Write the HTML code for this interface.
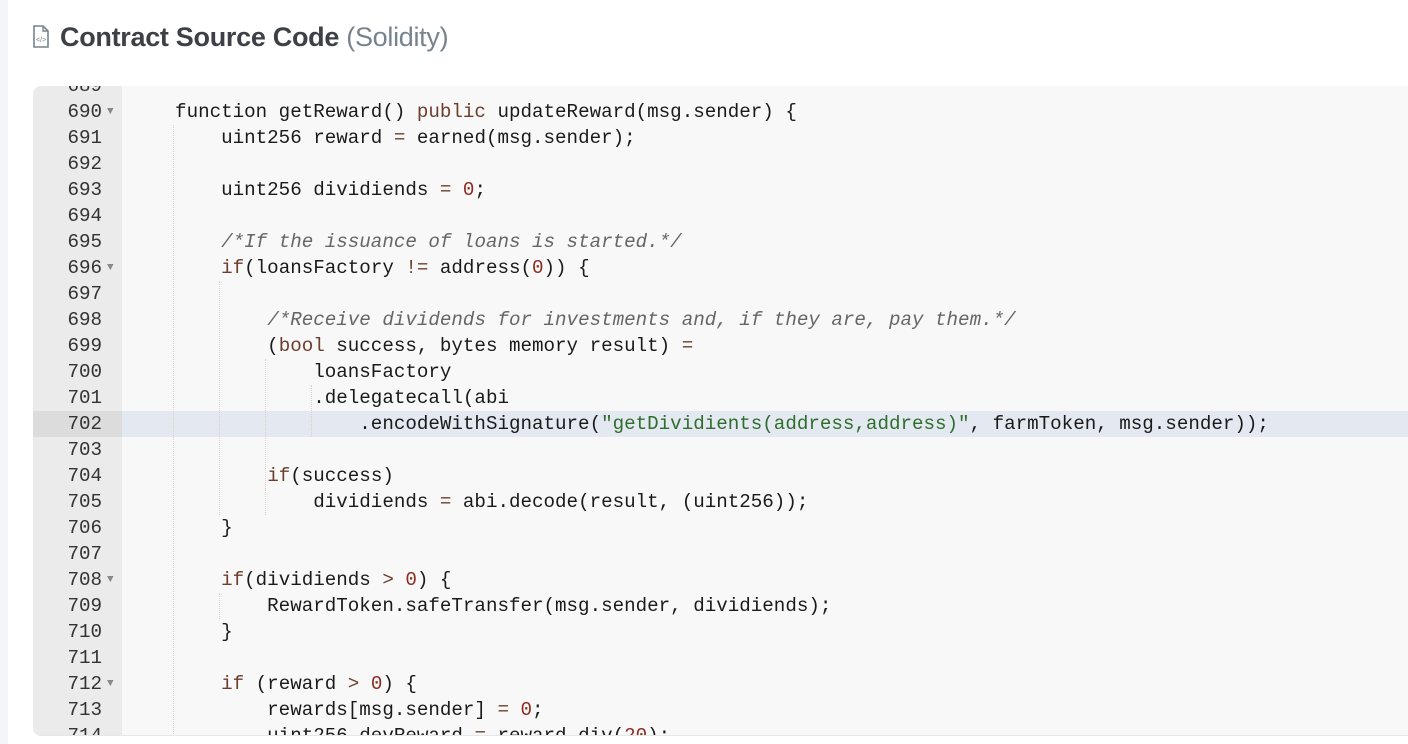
<!DOCTYPE html>
<html><head><meta charset="utf-8"><style>
body{margin:0;width:1408px;height:744px;background:#fff;position:relative;overflow:hidden;font-family:"Liberation Sans",sans-serif}
.lb{position:absolute;left:0;top:0;width:8px;height:744px;background:#f3f5f8}
.title{position:absolute;left:60px;top:22px;font-size:27px;font-weight:bold;color:#3c4148;letter-spacing:-0.3px}
.title span{font-weight:normal;color:#77838f}
.panel{position:absolute;left:33px;top:86px;width:1380px;height:649px;background:#f8f8f8;border-radius:8px 0 0 8px;overflow:hidden;border-bottom:1px solid #e3e6ea}
.gut{position:absolute;left:0;top:0;width:89px;height:100%;background:#ebebeb}
.code{position:absolute;left:0;top:1px;width:100%;font-family:"Liberation Mono",monospace;font-size:19.2px;color:#1a1a1a}
.l{position:absolute;left:0;height:26px;line-height:26px;width:100%;white-space:pre}
.n{position:absolute;left:0;width:69px;text-align:right;color:#333}
.f{position:absolute;left:74px;top:0;font-size:11px;color:#888}
.t{position:absolute;left:96px}
.hl{position:absolute;left:0;width:100%;height:26px;background:#e4e8f0}
.hlg{position:absolute;left:0;width:89px;height:26px;background:#dcdcdc}
.k{color:#6b3e2e}.o{color:#6b3e2e}.num{color:#8a2c1e}.s{color:#2d6e2d}.c{color:#666;font-style:italic}
.g{position:absolute;width:0;border-left:1px dotted #d8d3c8}
</style></head><body>
<div class="lb"></div>
<svg style="position:absolute;left:32px;top:25px" width="18" height="24" viewBox="0 0 18 24"><path d="M2 1h9l5 5v16H2z" fill="none" stroke="#77838f" stroke-width="1.6"/><path d="M11 1v5h5" fill="none" stroke="#77838f" stroke-width="1.4"/><text x="4" y="17" font-size="7" fill="#77838f" font-family="Liberation Sans">&lt;/&gt;</text></svg>
<div class="title">Contract Source Code <span>(Solidity)</span></div>
<div class="panel"><div class="gut"></div>
<div class="code">
<div class="hl" style="top:324px"></div><div class="hlg" style="top:324px"></div>
<div class="g" style="left:140px;top:38px;height:611px"></div>
<div class="g" style="left:186px;top:194px;height:234px"></div>
<div class="g" style="left:232px;top:272px;height:130px"></div>
<div class="g" style="left:278px;top:298px;height:52px"></div>
<div class="g" style="left:186px;top:506px;height:26px"></div>
<div class="g" style="left:232px;top:402px;height:26px"></div>
<div class="l" style="top:-14px"><span class="n">689</span></div>
<div class="l" style="top:12px"><span class="n">690</span><span class="f">▼</span><span class="t">    function getReward() <span class="k">public</span> updateReward(msg.sender) {</span></div>
<div class="l" style="top:38px"><span class="n">691</span><span class="t">        uint256 reward <span class="o">=</span> earned(msg.sender);</span></div>
<div class="l" style="top:64px"><span class="n">692</span></div>
<div class="l" style="top:90px"><span class="n">693</span><span class="t">        uint256 dividiends <span class="o">=</span> <span class="num">0</span>;</span></div>
<div class="l" style="top:116px"><span class="n">694</span></div>
<div class="l" style="top:142px"><span class="n">695</span><span class="t">        <span class="c">/*If the issuance of loans is started.*/</span></span></div>
<div class="l" style="top:168px"><span class="n">696</span><span class="f">▼</span><span class="t">        <span class="k">if</span>(loansFactory <span class="o">!=</span> address(<span class="num">0</span>)) {</span></div>
<div class="l" style="top:194px"><span class="n">697</span></div>
<div class="l" style="top:220px"><span class="n">698</span><span class="t">            <span class="c">/*Receive dividends for investments and, if they are, pay them.*/</span></span></div>
<div class="l" style="top:246px"><span class="n">699</span><span class="t">            (<span class="k">bool</span> success, bytes memory result) <span class="o">=</span></span></div>
<div class="l" style="top:272px"><span class="n">700</span><span class="t">                loansFactory</span></div>
<div class="l" style="top:298px"><span class="n">701</span><span class="t">                .delegatecall(abi</span></div>
<div class="l" style="top:324px"><span class="n">702</span><span class="t">                    .encodeWithSignature(<span class="s">"getDividients(address,address)"</span>, farmToken, msg.sender));</span></div>
<div class="l" style="top:350px"><span class="n">703</span></div>
<div class="l" style="top:376px"><span class="n">704</span><span class="t">            <span class="k">if</span>(success)</span></div>
<div class="l" style="top:402px"><span class="n">705</span><span class="t">                dividiends <span class="o">=</span> abi.decode(result, (uint256));</span></div>
<div class="l" style="top:428px"><span class="n">706</span><span class="t">        }</span></div>
<div class="l" style="top:454px"><span class="n">707</span></div>
<div class="l" style="top:480px"><span class="n">708</span><span class="f">▼</span><span class="t">        <span class="k">if</span>(dividiends <span class="o">&gt;</span> <span class="num">0</span>) {</span></div>
<div class="l" style="top:506px"><span class="n">709</span><span class="t">            RewardToken.safeTransfer(msg.sender, dividiends);</span></div>
<div class="l" style="top:532px"><span class="n">710</span><span class="t">        }</span></div>
<div class="l" style="top:558px"><span class="n">711</span></div>
<div class="l" style="top:584px"><span class="n">712</span><span class="f">▼</span><span class="t">        <span class="k">if</span> (reward <span class="o">&gt;</span> <span class="num">0</span>) {</span></div>
<div class="l" style="top:610px"><span class="n">713</span><span class="t">            rewards[msg.sender] <span class="o">=</span> <span class="num">0</span>;</span></div>
<div class="l" style="top:636px"><span class="n">714</span><span class="t">            uint256 devReward <span class="o">=</span> reward.div(<span class="num">20</span>);</span></div>
</div></div>
</body></html>
